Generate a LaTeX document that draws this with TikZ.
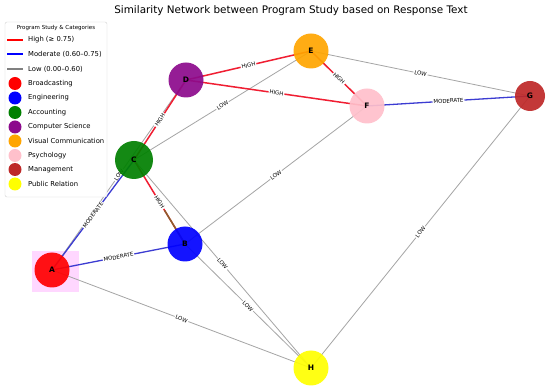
\documentclass[tikz,border=0pt]{standalone}
\usepackage{fontspec}
\setmainfont{DejaVu Sans}
\usetikzlibrary{calc}
\pgfdeclarelayer{back}
\pgfdeclarelayer{bg}
\pgfsetlayers{back,bg,main}
\definecolor{cbroad}{RGB}{255,0,0}
\definecolor{ceng}{RGB}{0,0,255}
\definecolor{cacc}{RGB}{0,128,0}
\definecolor{ccs}{RGB}{140,10,140}
\definecolor{cvc}{RGB}{255,165,0}
\definecolor{cpsy}{RGB}{255,192,203}
\definecolor{cmg}{RGB}{190,40,40}
\definecolor{cpr}{RGB}{255,255,0}
\definecolor{hicol}{RGB}{240,30,50}
\definecolor{mocol}{RGB}{60,60,210}
\definecolor{locol}{RGB}{165,165,165}
\definecolor{pinkbg}{RGB}{255,215,255}
\definecolor{browncol}{RGB}{140,95,45}
\begin{document}
\begin{tikzpicture}[x=1pt,y=-1pt,
  nd/.style={circle,minimum size=35pt,inner sep=0pt,font=\fontsize{7.5}{8}\selectfont\bfseries,fill opacity=0.92,text opacity=1},
  hi/.style={draw=hicol,line width=1.5pt},
  mo/.style={draw=mocol,line width=1.3pt},
  lo/.style={draw=locol,line width=0.8pt},
  el/.style={font=\fontsize{5.4}{6}\selectfont,fill=white,inner sep=1pt,sloped,pos=0.5},
  lgtext/.style={font=\fontsize{6.8}{7}\selectfont,anchor=west,inner sep=0pt},
  lgdot/.style={circle,minimum size=13pt,inner sep=0pt}
]
\useasboundingbox (0,0) rectangle (550,390);
\begin{pgfonlayer}{back}
\fill[white] (0,0) rectangle (550,390);
% pink background square behind A
\fill[pinkbg] (32,251) rectangle (79,292);
\end{pgfonlayer}

\node[font=\fontsize{10.4}{12}\selectfont] (title) at (291,11) {Similarity Network between Program Study based on Response Text};

% nodes
\node[nd,fill=cbroad] (A) at (52,270) {A};
\node[nd,fill=ceng] (B) at (185,244) {B};
\node[nd,fill=cacc,minimum size=38pt] (C) at (134,160) {C};
\node[nd,fill=ccs] (D) at (186,80) {D};
\node[nd,fill=cvc] (E) at (311,51) {E};
\node[nd,fill=cpsy] (F) at (367,106) {F};
\node[nd,fill=cmg,minimum size=30pt] (G) at (530,96) {G};
\node[nd,fill=cpr] (H) at (311,368) {H};

\begin{pgfonlayer}{bg}
\draw[lo] (A.center) -- node[el]{LOW} (D.center);
\draw[lo] (A.center) -- node[el]{LOW} (H.center);
\draw[lo] (C.center) -- node[el]{LOW} (E.center);
\draw[lo] (C.center) -- node[el]{LOW} (H.center);
\draw[lo] (B.center) -- node[el]{LOW} (H.center);
\draw[lo] (B.center) -- node[el]{LOW} (F.center);
\draw[lo] (E.center) -- node[el]{LOW} (G.center);
\draw[lo] (G.center) -- node[el]{LOW} (H.center);
\draw[mo] (A.center) -- node[el]{MODERATE} (C.center);
\draw[mo] (A.center) -- node[el]{MODERATE} (B.center);
\draw[mo] (F.center) -- node[el]{MODERATE} (G.center);
\draw[hi] (C.center) -- node[el]{HIGH} (D.center);
\draw[hi] (C.center) -- (B.center);
\draw[browncol,line width=1.5pt] ($(C.center)!0.6!(B.center)$) -- (B.center);
\path (C.center) -- node[el]{HIGH} (B.center);
\draw[hi] (D.center) -- node[el]{HIGH} (E.center);
\draw[hi] (D.center) -- node[el]{HIGH} (F.center);
\draw[hi] (E.center) -- node[el]{HIGH} (F.center);
\end{pgfonlayer}

% legend
\draw[gray!35,fill=white,fill opacity=0.9,rounded corners=2pt] (5,22) rectangle (107,197);
\node[font=\fontsize{5.5}{6}\selectfont] (lgt) at (56,28) {Program Study \& Categories};
\draw[draw=red,line width=1.5pt] (7,40) -- (23,40);
\node[lgtext] (l1) at (28,40) {High (≥ 0.75)};
\draw[draw=blue,line width=1.5pt] (7,54) -- (23,54);
\node[lgtext] (l2) at (28,54) {Moderate (0.60–0.75)};
\draw[draw=gray,line width=1.5pt] (7,69) -- (23,69);
\node[lgtext] (l3) at (28,69) {Low (0.00–0.60)};
\node[lgdot,fill=cbroad] (d1) at (15,83.5) {};
\node[lgtext] (t1) at (28,83.5) {Broadcasting};
\node[lgdot,fill=ceng] (d2) at (15,98) {};
\node[lgtext] (t2) at (28,98) {Engineering};
\node[lgdot,fill=cacc] (d3) at (15,112.5) {};
\node[lgtext] (t3) at (28,112.5) {Accounting};
\node[lgdot,fill=ccs] (d4) at (15,127) {};
\node[lgtext] (t4) at (28,127) {Computer Science};
\node[lgdot,fill=cvc] (d5) at (15,141) {};
\node[lgtext] (t5) at (28,141) {Visual Communication};
\node[lgdot,fill=cpsy] (d6) at (15,155.5) {};
\node[lgtext] (t6) at (28,155.5) {Psychology};
\node[lgdot,fill=cmg] (d7) at (15,169.5) {};
\node[lgtext] (t7) at (28,169.5) {Management};
\node[lgdot,fill=cpr] (d8) at (15,184) {};
\node[lgtext] (t8) at (28,184) {Public Relation};
\end{tikzpicture}
\end{document}
